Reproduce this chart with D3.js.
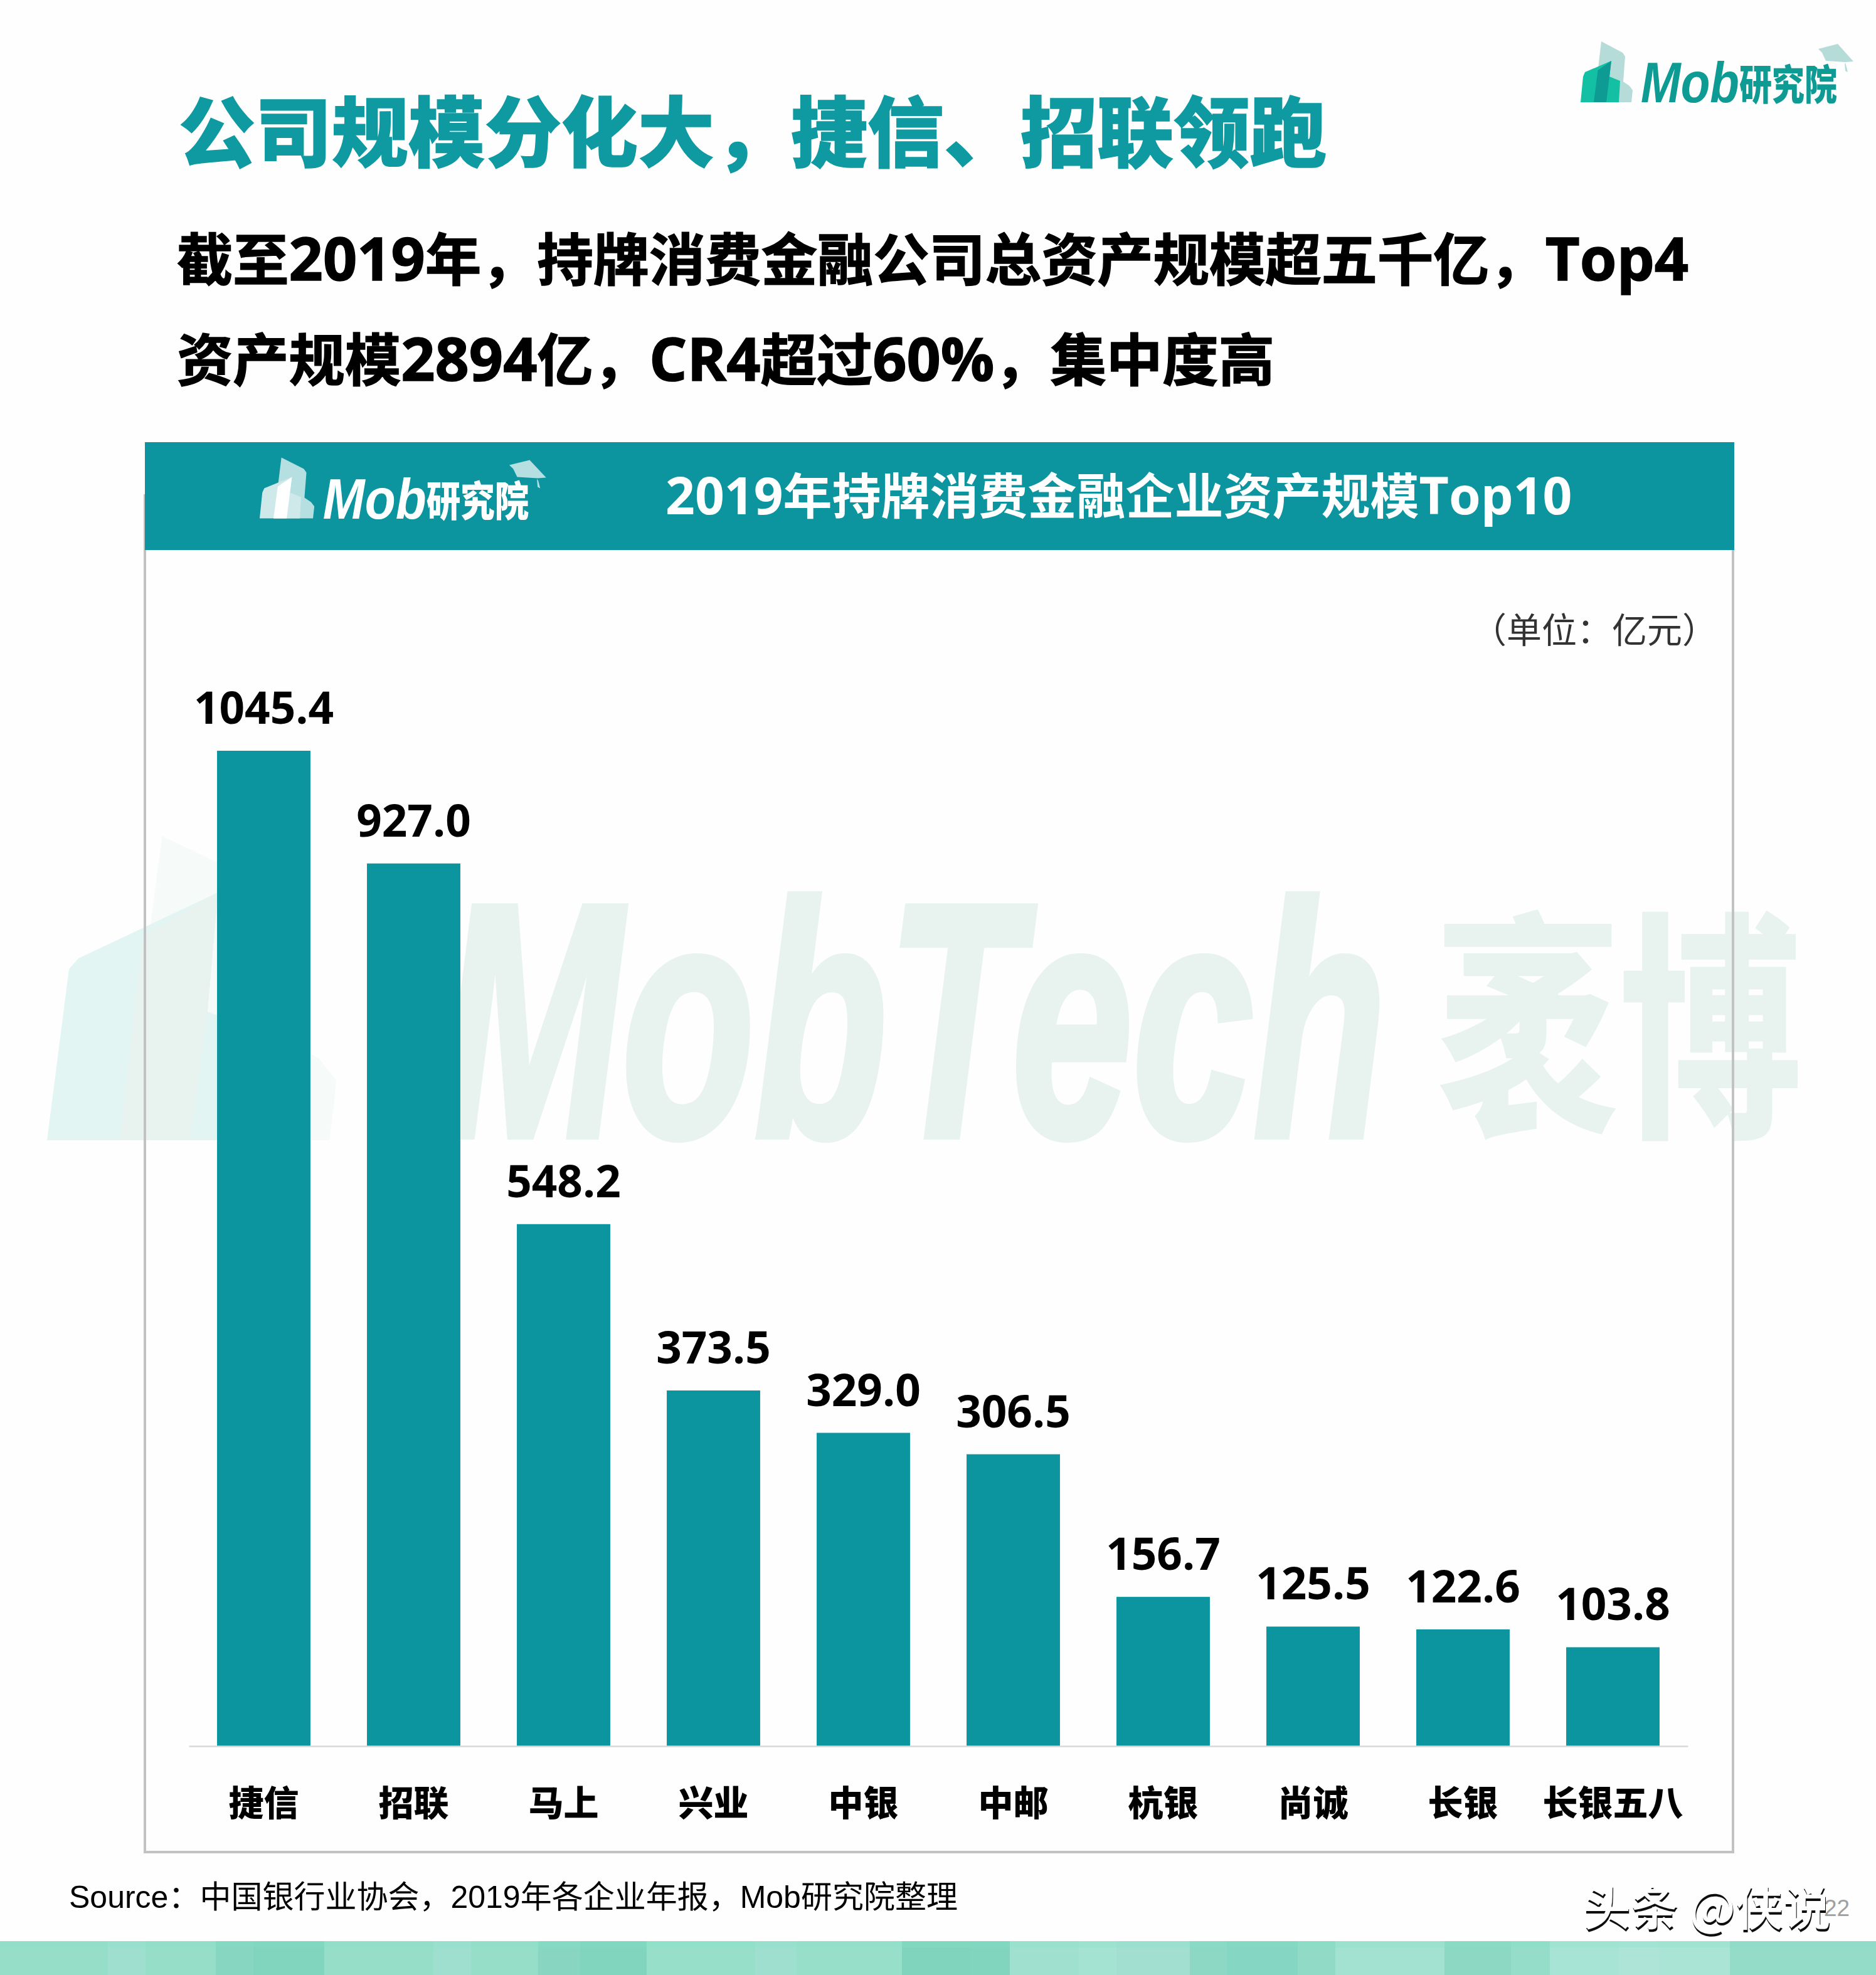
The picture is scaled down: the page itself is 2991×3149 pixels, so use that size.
<!DOCTYPE html>
<html lang="zh">
<head>
<meta charset="utf-8">
<title>2019年持牌消费金融企业资产规模Top10</title>
<script src="https://cdn.jsdelivr.net/npm/d3@7"></script>
<style>
html,body{margin:0;padding:0;background:#fefefe}
svg{display:block}
</style>
</head>
<body>
<svg id="c" width="2991" height="3149" viewBox="0 0 2991 3149"></svg>
<script>
// ---- data ----
const categories = ["捷信","招联","马上","兴业","中银","中邮","杭银","尚诚","长银","长银五八"];
const assetValues = [1045.4,927.0,548.2,373.5,329.0,306.5,156.7,125.5,122.6,103.8];
const pageTitle = "公司规模分化大，捷信、招联领跑";
const subtitleLines = ["截至2019年，持牌消费金融公司总资产规模超五千亿，Top4","资产规模2894亿，CR4超过60%，集中度高"];
const chartTitle = "2019年持牌消费金融企业资产规模Top10";
const unitLabel = "（单位：亿元）";
const sourceLabel = "Source：中国银行业协会，2019年各企业年报，Mob研究院整理";
const footerEdges = [0,172,232,344,404,517,691,751,858,925,1031,1204,1270,1438,1547,1610,1720,1780,1897,1956,2069,2129,2303,2409,2471,2581,2643,2758,2991];
const footerColors = ["#97dec9","#9fdfcf","#97dec9","#87d6c1","#81d5be","#97dec9","#9fdfcf","#97dec9","#88d6c1","#81d5be","#97dfc9","#9fdfcf","#98dfca","#80d4bd","#81d5bf","#a0e0cf","#a4e3d2","#a2dfd1","#8cd8c4","#85d6c2","#90dac6","#a3e2d1","#8cd8c3","#95dcc9","#a8e4d5","#aee4d7","#a9e4d5","#94dbc8"];

// ---- setup ----
const svg = d3.select("#c");
const CJK = '"Open Sans","Noto Sans CJK SC",sans-serif';
const teal = "#0c959f";
const line = d3.line();

const defs = svg.append("defs");
const emboss = defs.append("filter").attr("id","emboss").attr("x","-5%").attr("y","-10%").attr("width","110%").attr("height","120%");
emboss.append("feOffset").attr("in","SourceAlpha").attr("dx",-1).attr("dy",-4).attr("result","o");
emboss.append("feComposite").attr("in","SourceGraphic").attr("in2","o").attr("operator","out");

svg.append("rect").attr("width",2991).attr("height",3149).attr("fill","#fefefe");

// mixed-script text: Latin runs and CJK runs take different sizes
function mixed(sel, text, cjkSize, latinSize){
  sel.selectAll("tspan").data(text.match(/[A-Za-z0-9%]+|[^A-Za-z0-9%]+/g)).join("tspan")
    .text(d=>d).attr("font-size",d=>/[A-Za-z0-9%]/.test(d)?latinSize:cjkSize);
}

// logo shape in its own small unit system (origin = bottom-left of the building)
const logoBack = [[33,-97],[67,-79],[71,-73],[68,-33],[78,-26],[83,-19],[81,0],[22,0],[29,-63]];
const logoFront = [[0,0],[4,-41],[7,-48],[49,-66],[46,-41],[63,-34],[61,0]];
const logoStripe = [[21,0],[27.5,-51],[49,-66],[46,-41],[41,0]];
const wmFront = [[0,0],[6.3,-54.6],[9,-58],[49,-79],[46,-41],[63,-34],[61,0]];
const wmStripe = [[21,0],[27.5,-65],[49,-79],[46,-41],[41,0]];
const logoCap = [[379,-85],[410,-93],[435,-65],[422,-64],[391,-66],[385,-79]];
const logoTassel = [[421,-63],[423,-60],[426,-48],[422,-50]];

function building(g, cols, front, stripe){
  g.append("path").attr("d",line(logoBack)+"Z").attr("fill",cols[0]);
  g.append("path").attr("d",line(front)+"Z").attr("fill",cols[1]);
  g.append("path").attr("d",line(stripe)+"Z").attr("fill",cols[2]);
}
function brand(x,y,sx,sy,cols,textCol,capCol){
  const g = svg.append("g").attr("transform",`translate(${x},${y}) scale(${sx},${sy})`);
  building(g,cols,logoFront,logoStripe);
  g.append("path").attr("d",line(logoCap)+"Z").attr("fill",capCol);
  g.append("path").attr("d",line(logoTassel)+"Z").attr("fill",capCol);
  g.append("text").text("Mob").attr("x",96).attr("y",0)
    .attr("font-family",'"Liberation Sans",sans-serif').attr("font-weight",700).attr("font-style","italic")
    .attr("font-size",90).attr("fill",textCol).attr("textLength",157).attr("lengthAdjust","spacingAndGlyphs");
  g.append("text").text("研究院").attr("x",253).attr("y",-4)
    .attr("font-family",'"Noto Sans CJK SC",sans-serif').attr("font-weight",900)
    .attr("font-size",66).attr("fill",textCol).attr("textLength",156).attr("lengthAdjust","spacingAndGlyphs");
}

// ---- watermark ----
const wm = svg.append("g").attr("transform","translate(75,1818) scale(5.56,5)");
building(wm,["#f6faf9","#e3f5f3","#e8f3f0"],wmFront,wmStripe);
svg.append("text").text("MobTech").attr("x",703).attr("y",1811)
  .attr("font-family",'"Liberation Sans",sans-serif').attr("font-weight",700).attr("font-style","italic")
  .attr("font-size",530).attr("fill","#e8f3f0").attr("stroke","#e8f3f0").attr("stroke-width",12)
  .attr("textLength",1507).attr("lengthAdjust","spacingAndGlyphs");
svg.append("text").text("袤博").attr("x",2290).attr("y",1783)
  .attr("font-family",'"Noto Sans CJK SC",sans-serif').attr("font-weight",900)
  .attr("font-size",385).attr("fill","#e8f3f0").attr("textLength",583).attr("lengthAdjust","spacingAndGlyphs");

// ---- page titles ----
svg.append("text").text(pageTitle).attr("x",285).attr("y",256)
  .attr("font-family",CJK).attr("font-weight",900).attr("font-size",122)
  .attr("fill","#0f9aa1").attr("stroke","#0f9aa1").attr("stroke-width",1.5);
svg.selectAll("text.sub").data(subtitleLines).join("text").attr("class","sub")
  .attr("x",282).attr("y",(d,i)=>447+i*160)
  .attr("font-family",CJK).attr("font-weight",700).attr("fill","#000")
  .attr("stroke","#000").attr("stroke-width",1.5)
  .each(function(d){ mixed(d3.select(this),d,89.3,95); });

// ---- chart frame ----
svg.append("rect").attr("x",231).attr("y",790).attr("width",2532).attr("height",2163)
  .attr("fill","none").attr("stroke","#c2c2c2").attr("stroke-width",4);
svg.append("rect").attr("x",231).attr("y",705).attr("width",2534).attr("height",172).attr("fill","#0c959f");
brand(414,826.5,1.05,1,["#b5dfe1","#cfe9ea","#ffffff"],"#ffffff","#b5dfe1");
svg.append("text").attr("x",1061).attr("y",820)
  .attr("font-family",CJK).attr("font-weight",700).attr("fill","#fff")
  .call(mixed,chartTitle,78,82);
svg.append("text").text(unitLabel).attr("x",2738).attr("y",1025).attr("text-anchor","end")
  .attr("font-family",'"Noto Sans CJK SC",sans-serif').attr("font-size",56).attr("fill","#333");

// ---- chart ----
const x = d3.scaleBand().domain(categories).range([301,2691]).paddingInner(0.377).paddingOuter(0.1885);
const y = d3.scaleLinear().domain([0,1045.4]).range([2784,1197]);

svg.append("g").selectAll("rect").data(assetValues).join("rect")
  .attr("x",(d,i)=>x(categories[i])).attr("width",x.bandwidth())
  .attr("y",d=>y(d)).attr("height",d=>y(0)-y(d)).attr("fill",teal);

const axis = svg.append("g").attr("transform",`translate(0,${y(0)})`)
  .call(d3.axisBottom(x).tickSize(0));
axis.select(".domain").attr("stroke","#d9d9d9").attr("stroke-width",2.5);
axis.selectAll("text").attr("dy",0).attr("y",111)
  .attr("font-family",'"Noto Sans CJK SC",sans-serif').attr("font-weight",900).attr("font-size",56).attr("fill","#000");

svg.append("g").selectAll("text").data(assetValues).join("text")
  .text(d=>d3.format(".1f")(d))
  .attr("x",(d,i)=>x(categories[i])+x.bandwidth()/2).attr("y",d=>y(d)-43).attr("text-anchor","middle")
  .attr("font-family",'"Open Sans",sans-serif').attr("font-weight",700).attr("font-size",71).attr("fill","#000");

// ---- top logo ----
brand(2520,163,1,1,["#b5dcd9","#14c0a4","#0d9b93"],"#0d9b93","#b5dcd9");

// ---- footer ----
svg.append("text").text(sourceLabel).attr("x",110).attr("y",3042)
  .attr("font-family",'"Liberation Sans","Noto Sans CJK SC",sans-serif').attr("font-size",50).attr("fill","#000");
svg.append("g").selectAll("rect").data(footerColors).join("rect")
  .attr("x",(d,i)=>footerEdges[i]).attr("width",(d,i)=>footerEdges[i+1]-footerEdges[i])
  .attr("y",3095).attr("height",54).attr("fill",d=>d);
svg.append("rect").attr("x",0).attr("y",3095).attr("width",2991).attr("height",10).attr("fill","#7fe3c8").attr("opacity",0.25);
svg.append("text").text("22").attr("x",2908).attr("y",3055)
  .attr("font-family",'"Liberation Sans",sans-serif').attr("font-size",37).attr("fill","#a0a0a0");
svg.append("text").text("头条 @侠说").attr("x",2525).attr("y",3074)
  .attr("font-family",'"Noto Sans CJK SC",sans-serif').attr("font-size",76).attr("font-weight",500).attr("fill","#111")
  .attr("filter","url(#emboss)");
</script>
</body>
</html>
